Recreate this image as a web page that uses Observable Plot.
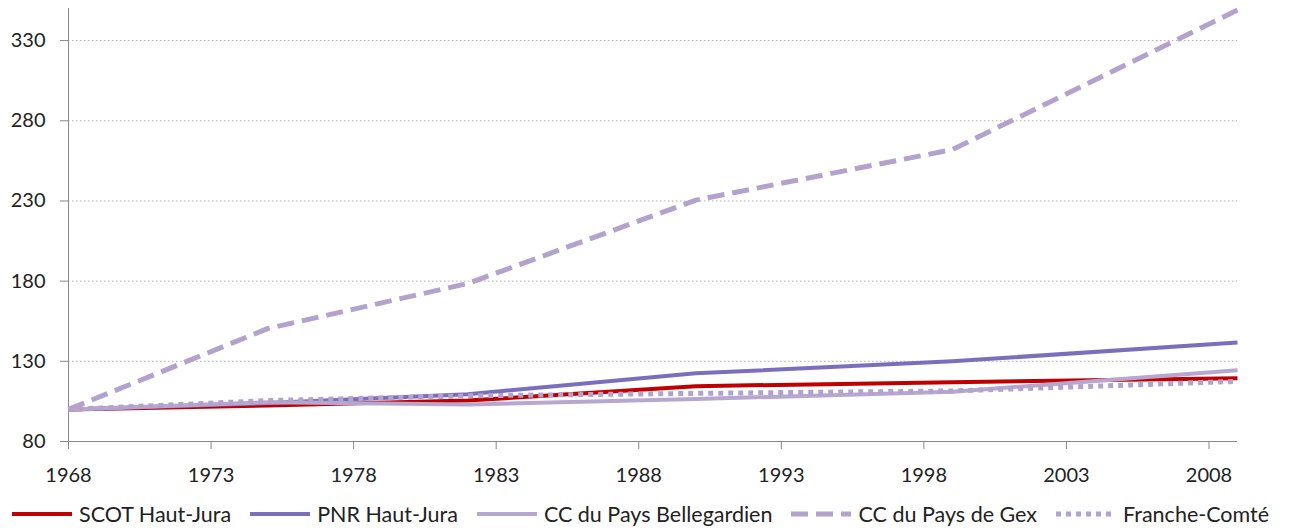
<!DOCTYPE html>
<html>
<head>
<meta charset="utf-8">
<script src="https://cdn.jsdelivr.net/npm/d3@7"></script>
<script src="https://cdn.jsdelivr.net/npm/@observablehq/plot@0.6"></script>
<style>
  html, body { margin: 0; padding: 0; background: #fff; }
  body { width: 1291px; height: 531px; overflow: hidden; font-family: Lato, "Open Sans", sans-serif; }
  #legend { display: flex; align-items: center; height: 41px; padding-top: 7px; box-sizing: border-box; padding-left: 12px; font-size: 21.5px; color: #222; white-space: nowrap; }
  .item { display: flex; align-items: center; margin-right: 19px; }
  .item svg { margin-right: 7px; }
</style>
</head>
<body>
<div id="chart"></div>
<div id="legend"></div>
<script>
const years = [1968, 1975, 1982, 1990, 1999, 2009];
const seriesNames = ["SCOT Haut-Jura", "PNR Haut-Jura", "CC du Pays Bellegardien", "CC du Pays de Gex", "Franche-Comté"];
const scot = [100, 102.5, 105.5, 114.5, 117, 119.5];
const pnr = [100, 104, 109.5, 122.5, 130, 141.7];
const bellegarde = [100, 104.5, 103, 106.5, 111, 124.5];
const gex = [100, 150.5, 178.5, 230.5, 262, 349];
const franche = [100, 105.5, 108.5, 110, 111.5, 117.5];
const yTicks = [80, 130, 180, 230, 280, 330];
const xTicks = [1968, 1973, 1978, 1983, 1988, 1993, 1998, 2003, 2008];

const values = [scot, pnr, bellegarde, gex, franche];
const styles = [
  {stroke: "#C00000", width: 4, dash: null},
  {stroke: "#7B6FBD", width: 4, dash: null},
  {stroke: "#B6A7D1", width: 4, dash: null},
  {stroke: "#B3A2CC", width: 5, dash: "17,8"},
  {stroke: "#B3A2CC", width: 5, dash: "5,5"}
];
const data = seriesNames.map((name, i) => years.map((y, j) => ({series: name, year: y, value: values[i][j]})));

const lineMarks = data.map((d, i) => Plot.line(d, {
  x: "year", y: "value",
  stroke: styles[i].stroke,
  strokeWidth: styles[i].width,
  strokeDasharray: styles[i].dash,
  strokeLinecap: "butt",
  strokeLinejoin: "round"
}));

const chart = Plot.plot({
  width: 1291,
  height: 490,
  marginTop: 8,
  marginBottom: 49,
  marginLeft: 68,
  marginRight: 54,
  style: {fontFamily: "Lato, 'Open Sans', sans-serif", fontSize: "20px", color: "#222", background: "#fff"},
  x: {domain: [1968, 2009]},
  y: {domain: [80, 350]},
  marks: [
    Plot.gridY(yTicks.filter(t => t > 80), {stroke: "#b0b0b0", strokeOpacity: 1, strokeDasharray: "1.5,2.5", strokeWidth: 1}),
    Plot.axisY(yTicks, {tickSize: 8, tickPadding: 15, stroke: "#888", label: null, fontSize: 20, tickFormat: d => d}),
    Plot.axisX(xTicks, {tickSize: 8, tickPadding: 18, stroke: "#888", label: null, fontSize: 20, tickFormat: d => String(d)}),
    Plot.ruleY([80], {stroke: "#888"}),
    Plot.ruleX([1968], {stroke: "#888"}),
    ...lineMarks
  ]
});
document.getElementById("chart").appendChild(chart);

const legend = document.getElementById("legend");
seriesNames.forEach((name, i) => {
  const item = document.createElement("div");
  item.className = "item";
  const s = styles[i];
  item.innerHTML = `<svg width="60" height="10"><line x1="0" y1="5" x2="60" y2="5" stroke="${s.stroke}" stroke-width="${s.width}" ${s.dash ? `stroke-dasharray="${s.dash}"` : ""}/></svg><span>${name}</span>`;
  legend.appendChild(item);
});
</script>
</body>
</html>
